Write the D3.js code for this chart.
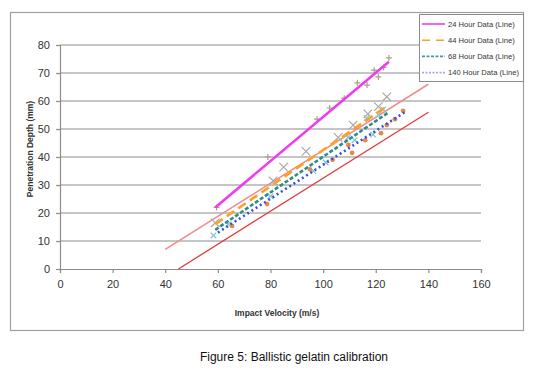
<!DOCTYPE html>
<html>
<head>
<meta charset="utf-8">
<script src="https://cdn.jsdelivr.net/npm/d3@7"></script>
<style>
    body { margin: 0; background: #fff; }
    svg { display: block; font-family: "Liberation Sans", Arial, sans-serif; }
</style>
</head>
<body>
<svg id="chart" width="546" height="374"></svg>
<script>
// axis ticks
const xTicks = [0, 20, 40, 60, 80, 100, 120, 140, 160];
const yTicks = [0, 10, 20, 30, 40, 50, 60, 70, 80];

// fitted lines: [velocity, depth] at each end
const line24 = [[59, 22], [125, 74]];
const line44 = [[59, 16], [124, 58]];
const line68 = [[59, 14], [125, 56]];
const line140 = [[60, 13], [131, 56]];
const lineUpper = [[40, 7], [140, 66]];
const lineLower = [[45, 0], [140, 56]];

// measured points
const points24 = [[59.5, 22], [79, 40], [97.7, 53.5], [102.5, 57.5], [108, 61], [113, 66.5],
    [116.7, 65.7], [119.4, 71], [121, 68.6], [123, 72], [125, 75.4]];
const points44 = [[59, 16.5], [81, 31.5], [85, 36.4], [93.5, 42], [105.7, 47], [111.4, 51.4],
    [117, 55.4], [121, 58], [124.2, 61.5]];
const points68 = [[58.3, 12], [64, 16], [80, 26], [96.3, 35], [101, 38], [109.5, 47], [112, 46],
    [116.6, 54], [119, 48], [121, 55], [122.8, 57]];
const points140 = [[65.4, 15.4], [78.7, 23.2], [95, 35.6], [103.6, 39], [109.6, 44.3], [111, 41.5],
    [116, 46], [122, 48.5], [124.2, 51.4], [127.3, 53.5], [130.4, 56.5]];

const legendLabels = ['24 Hour Data (Line)', '44 Hour Data (Line)', '68 Hour Data (Line)', '140 Hour Data (Line)'];

const plot = {
    left: 60,
    right: 481,
    top: 45,
    bottom: 269,
};

const svg = d3.select('#chart');
const xScale = d3.scaleLinear([0, 160], [plot.left, plot.right]);
const yScale = d3.scaleLinear([0, 80], [plot.bottom, plot.top]);

// outer chart box
svg.append('rect').
attr('x', 10.5).
attr('y', 12.5).
attr('width', 513).
attr('height', 318).
attr('fill', '#fff').
attr('stroke', '#a0a0a0').
attr('stroke-width', 1.2);

// gridlines
svg.append('g').
selectAll('line').
data(yTicks.filter(d => d > 0)).
enter().
append('line').
attr('x1', plot.left).
attr('x2', plot.right).
attr('y1', d => yScale(d)).
attr('y2', d => yScale(d)).
attr('stroke', '#8c8c8c').
attr('stroke-width', 1.2);

// axes
const yAxis = d3.axisLeft(yScale).tickValues(yTicks).tickSize(4).tickPadding(6);
const xAxis = d3.axisBottom(xScale).tickValues(xTicks).tickSize(4).tickPadding(7);
svg.append('g').attr('transform', `translate(${plot.left}, 0)`).call(yAxis);
svg.append('g').attr('transform', `translate(0, ${plot.bottom})`).call(xAxis);
svg.selectAll('.domain, .tick line').attr('stroke', '#8c8c8c').attr('stroke-width', 1.2);
svg.selectAll('.tick text').
attr('font-family', '"Liberation Sans", Arial, sans-serif').
attr('font-size', 11).
attr('fill', '#333');

// axis titles
svg.append('text').
attr('x', 277).
attr('y', 316).
attr('text-anchor', 'middle').
attr('font-size', 8.5).
attr('font-weight', 'bold').
attr('fill', '#333').
text('Impact Velocity (m/s)');

svg.append('text').
attr('transform', 'translate(33, 149) rotate(-90)').
attr('text-anchor', 'middle').
attr('font-size', 8.5).
attr('font-weight', 'bold').
attr('fill', '#333').
text('Penetration Depth (mm)');

const lineGen = d3.line().x(d => xScale(d[0])).y(d => yScale(d[1]));

// thin reference lines
svg.append('path').attr('d', lineGen(lineUpper)).
attr('fill', 'none').attr('stroke', '#f08c8c').attr('stroke-width', 1.6);
svg.append('path').attr('d', lineGen(lineLower)).
attr('fill', 'none').attr('stroke', '#e23a3a').attr('stroke-width', 1.3);

// markers
const drawCross = (data, size, colour, width, rotate) => {
    svg.append('g').
    selectAll('path').
    data(data).
    enter().
    append('path').
    attr('d', `M${-size},0H${size}M0,${-size}V${size}`).
    attr('transform', d => `translate(${xScale(d[0])}, ${yScale(d[1])}) rotate(${rotate})`).
    attr('stroke', colour).
    attr('stroke-width', width);
};
drawCross(points44, 6, '#a8a8a8', 1.2, 45);
drawCross(points24, 3, '#a4a487', 1.2, 0);
drawCross(points68, 4, '#7cc6d4', 1.2, 45);
svg.append('g').
selectAll('circle').
data(points140).
enter().
append('circle').
attr('cx', d => xScale(d[0])).
attr('cy', d => yScale(d[1])).
attr('r', 2.4).
attr('fill', '#e4894a');

// fitted data lines
const series = [
    { data: line24, colour: '#f03cf0', dash: null },
    { data: line44, colour: '#ffa024', dash: '9,5' },
    { data: line68, colour: '#2a8f8c', dash: '4,2' },
    { data: line140, colour: '#3d4fd8', dash: '2,3' },
];
series.forEach((s) => {
    svg.append('path').
    attr('d', lineGen(s.data)).
    attr('fill', 'none').
    attr('stroke', s.colour).
    attr('stroke-width', 2.6).
    attr('stroke-dasharray', s.dash);
});

// legend
const legend = svg.append('g').attr('transform', 'translate(419, 14)');
legend.append('rect').
attr('x', 0.5).
attr('y', 0.5).
attr('width', 104).
attr('height', 67).
attr('fill', '#fff').
attr('stroke', '#8c8c8c');
const legendColours = ['#f03cf0', '#ffa024', '#3f9aa0', '#a8a8e0'];
const legendDash = [null, '8,6', '3,1.5', '2,1.5'];
legendLabels.forEach((label, i) => {
    const rowY = 10 + i * 16.2;
    legend.append('line').
    attr('x1', 3).
    attr('x2', 26).
    attr('y1', rowY).
    attr('y2', rowY).
    attr('stroke', legendColours[i]).
    attr('stroke-width', 1.6).
    attr('stroke-dasharray', legendDash[i]);
    legend.append('text').
    attr('x', 29).
    attr('y', rowY + 2.8).
    attr('font-size', 7.6).
    attr('fill', '#333').
    text(label);
});

// caption
svg.append('text').
attr('x', 294).
attr('y', 361).
attr('text-anchor', 'middle').
attr('font-size', 12).
attr('fill', '#111').
text('Figure 5: Ballistic gelatin calibration');
</script>
</body>
</html>
